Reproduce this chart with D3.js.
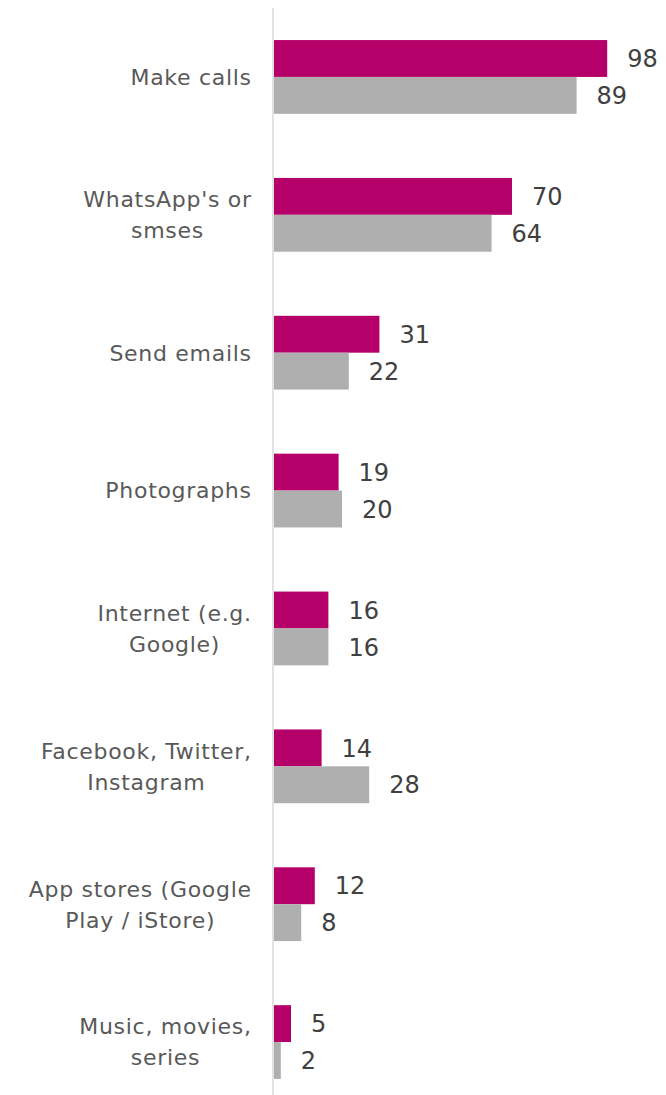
<!DOCTYPE html>
<html>
<head>
<meta charset="utf-8">
<script src="https://cdn.jsdelivr.net/npm/d3@7"></script>
<style>
  html, body { margin: 0; padding: 0; background: #fff; }
  svg { display: block; }
</style>
</head>
<body>
<svg id="chart" width="666" height="1095"></svg>
<script>
// Activities done on the phone, two series per activity
const categories = [
  ["Make calls"],
  ["WhatsApp's or", "smses"],
  ["Send emails"],
  ["Photographs"],
  ["Internet (e.g.", "Google)"],
  ["Facebook, Twitter,", "Instagram"],
  ["App stores (Google", "Play / iStore)"],
  ["Music, movies,", "series"]
];
const seriesA = [98, 70, 31, 19, 16, 14, 12, 5];
const seriesB = [89, 64, 22, 20, 16, 28, 8, 2];
const seriesColors = ["#b5006a", "#afafaf"];

const svg = d3.select("#chart");
const x0 = 274;
const x = d3.scaleLinear().domain([0, 100]).range([x0, x0 + 340]);
const keys = categories.map((c, i) => i);
const y = d3.scaleBand().domain(keys).range([8, 1111]).paddingInner(0.465).paddingOuter(0.2325);
const inner = d3.scaleBand().domain([0, 1]).range([0, y.bandwidth()]);

// vertical category axis line
svg.append("line")
  .attr("x1", x0 - 1).attr("x2", x0 - 1)
  .attr("y1", 8).attr("y2", 1095)
  .attr("stroke", "#d9d9d9").attr("stroke-width", 1.5);

const rows = keys.map(i => ({ i, vals: [seriesA[i], seriesB[i]] }));

const g = svg.append("g");
rows.forEach(r => {
  r.vals.forEach((v, s) => {
    g.append("rect")
      .attr("x", x(0))
      .attr("y", y(r.i) + inner(s))
      .attr("width", x(v) - x(0))
      .attr("height", inner.bandwidth())
      .attr("fill", seriesColors[s]);
    g.append("text")
      .attr("x", x(v) + 20)
      .attr("y", y(r.i) + inner(s) + inner.bandwidth() / 2)
      .attr("dy", "0.36em")
      .attr("font-family", "'DejaVu Sans', sans-serif")
      .attr("font-size", 24)
      .attr("fill", "#404040")
      .text(v);
  });
});

// category labels: lines centred on each other, block right-aligned
const labelRight = 251;
const lineH = 31;
const spacing = 0.7;
categories.forEach((lines, i) => {
  const cy = y(i) + y.bandwidth() / 2;
  const t = svg.append("text")
    .attr("font-family", "'DejaVu Sans', sans-serif")
    .attr("font-size", 22)
    .attr("letter-spacing", spacing)
    .attr("fill", "#595959")
    .attr("text-anchor", "middle");
  const spans = lines.map((ln, k) => t.append("tspan")
    .attr("y", cy + (k - (lines.length - 1) / 2) * lineH)
    .attr("dy", "0.36em")
    .text(ln));
  const w = d3.max(spans, s => s.node().getComputedTextLength());
  spans.forEach(s => s.attr("x", labelRight + spacing - w / 2));
});
</script>
</body>
</html>
